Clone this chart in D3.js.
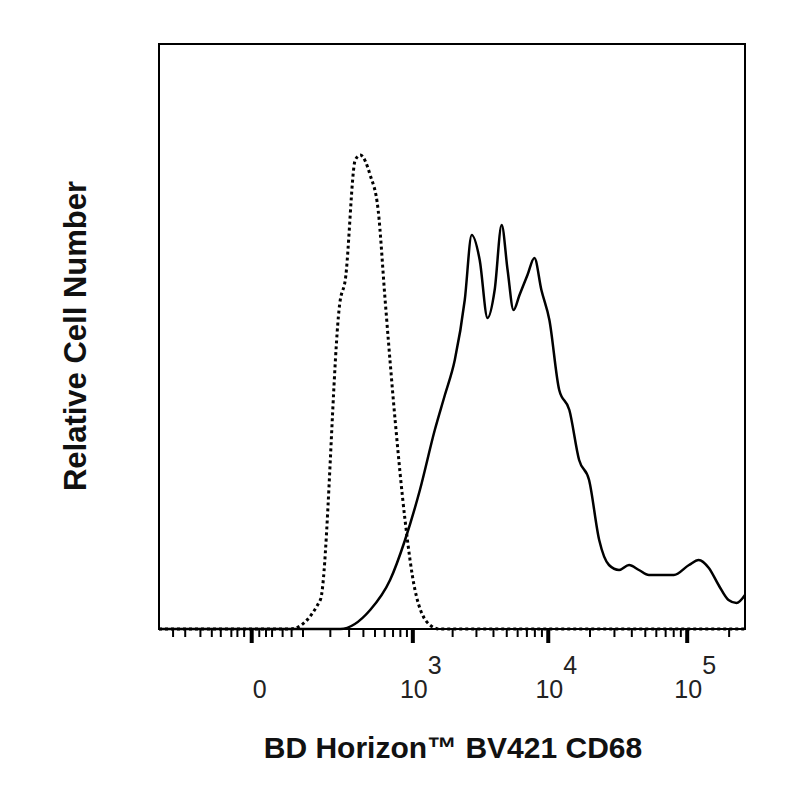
<!DOCTYPE html>
<html><head><meta charset="utf-8">
<script src="https://cdn.jsdelivr.net/npm/d3@7"></script>
<style>body{margin:0;background:#fff}</style></head>
<body><svg id="c" width="800" height="800"></svg>
<script>
// isotype control (dotted) and stained (solid) histograms
const isoX = [-272, 67, 158, 249, 277, 340, 376, 456, 531, 605, 727, 870, 1039, 1350, 1600, 260000];
const isoY = [0, 0, 29, 329, 349, 469, 474, 454, 419, 329, 209, 109, 39, 4, 0, 0];
const cd68X = [-272, 249, 456, 663, 870, 1133, 1470, 1750, 2075, 2460, 2770, 3170, 3620, 4080, 4590, 5070, 5600, 6190, 7070, 7940, 8920, 10190, 12000, 14200, 16700, 19700, 23300, 27400, 32400, 38200, 45000, 53100, 62600, 80200, 103000, 121000, 143000, 168000, 198000, 226000, 260000];
const cd68Y = [0, 0, 19, 49, 89, 139, 199, 234, 269, 329, 394, 369, 311, 339, 404, 359, 319, 334, 354, 371, 339, 309, 239, 219, 169, 149, 89, 64, 59, 64, 59, 54, 54, 54, 64, 69, 61, 44, 29, 26, 34];
const majorTicks = [0, 1000, 10000, 100000];
const minorTicks = [-200, -150, -100, -70, -50, -30, -20, -10, 10, 20, 30, 50, 70, 100, 200, 300, 400, 500, 600, 700, 800, 900,
  2000, 3000, 4000, 5000, 6000, 7000, 8000, 9000, 20000, 30000, 40000, 50000, 60000, 70000, 80000, 90000, 200000];

const svg = d3.select("#c");
const L = 159, R = 745, T = 44, B = 629;
const x = d3.scaleSymlog().constant(75).domain([-272, 260000]).range([L, R]);
const y = d3.scaleLinear().domain([0, 585]).range([B, T]);
const font = "Liberation Sans, Arial, sans-serif";

svg.append("rect").attr("x", L).attr("y", T).attr("width", R - L).attr("height", B - T)
  .attr("fill", "none").attr("stroke", "#000").attr("stroke-width", 2);

const g = svg.append("g").attr("transform", `translate(0,${B})`);
g.selectAll(".mi").data(minorTicks).join("line")
  .attr("x1", d => x(d)).attr("x2", d => x(d)).attr("y1", 0).attr("y2", 8)
  .attr("stroke", "#000").attr("stroke-width", 2);
g.selectAll(".ma").data(majorTicks).join("line")
  .attr("x1", d => x(d)).attr("x2", d => x(d)).attr("y1", 0).attr("y2", 14)
  .attr("stroke", "#000").attr("stroke-width", 4);

const lab = svg.append("g").attr("font-family", font).attr("font-size", 25).attr("fill", "#222");
majorTicks.forEach(v => {
  const t = lab.append("text").attr("x", x(v) + 8).attr("y", 698).attr("text-anchor", "middle");
  if (v === 0) { t.text("0"); return; }
  t.append("tspan").text("10");
  t.append("tspan").attr("dy", -24).text(String(Math.round(Math.log10(v))));
});

const line = d3.line().x(d => x(d[0])).y(d => y(d[1])).curve(d3.curveMonotoneX);
svg.append("path").datum(isoX.map((v, i) => [v, isoY[i]])).attr("d", line)
  .attr("fill", "none").attr("stroke", "#000").attr("stroke-width", 3).attr("stroke-dasharray", "3,3");
svg.append("path").datum(cd68X.map((v, i) => [v, cd68Y[i]])).attr("d", line)
  .attr("fill", "none").attr("stroke", "#000").attr("stroke-width", 2.5);

svg.append("text").attr("transform", "translate(86,336) rotate(-90)").attr("text-anchor", "middle")
  .attr("font-family", font).attr("font-size", 31).attr("font-weight", "bold").attr("fill", "#111")
  .text("Relative Cell Number");
svg.append("text").attr("x", 453).attr("y", 758).attr("text-anchor", "middle")
  .attr("font-family", font).attr("font-size", 30).attr("font-weight", "bold").attr("fill", "#111")
  .text("BD Horizon™ BV421 CD68");
</script></body></html>
